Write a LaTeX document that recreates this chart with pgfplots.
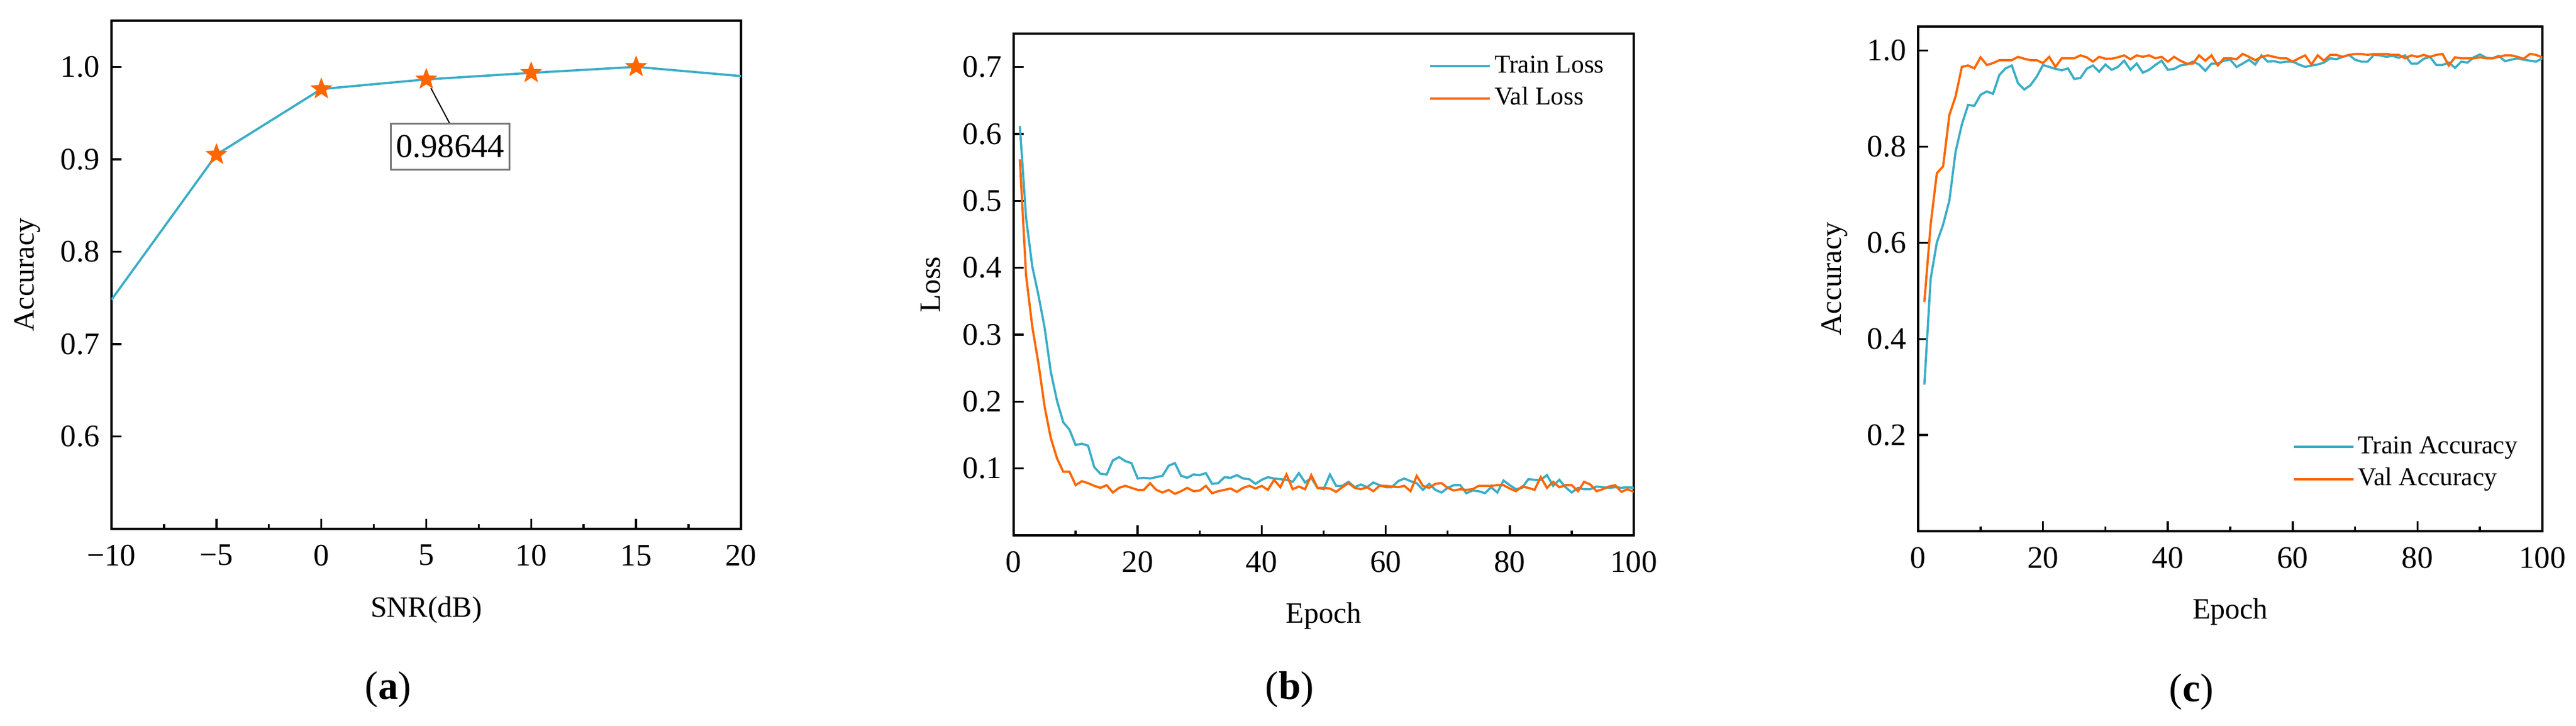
\documentclass[border=0pt]{standalone}
\usepackage{fontspec}
\setmainfont{Liberation Serif}
\usepackage{pgfplots}
\usepackage{pgfplotstable}
\pgfplotsset{compat=1.18}
\definecolor{cy}{RGB}{58,173,199}
\definecolor{orz}{RGB}{255,102,0}
\definecolor{boxgray}{RGB}{120,120,120}

\pgfdeclareplotmark{fstar}{%
  \pgfpathmoveto{\pgfpointpolar{90}{\pgfplotmarksize}}%
  \pgfpathlineto{\pgfpointpolar{126}{0.42\pgfplotmarksize}}%
  \pgfpathlineto{\pgfpointpolar{162}{\pgfplotmarksize}}%
  \pgfpathlineto{\pgfpointpolar{198}{0.42\pgfplotmarksize}}%
  \pgfpathlineto{\pgfpointpolar{234}{\pgfplotmarksize}}%
  \pgfpathlineto{\pgfpointpolar{270}{0.42\pgfplotmarksize}}%
  \pgfpathlineto{\pgfpointpolar{306}{\pgfplotmarksize}}%
  \pgfpathlineto{\pgfpointpolar{342}{0.42\pgfplotmarksize}}%
  \pgfpathlineto{\pgfpointpolar{18}{\pgfplotmarksize}}%
  \pgfpathlineto{\pgfpointpolar{54}{0.42\pgfplotmarksize}}%
  \pgfpathclose
  \pgfusepathqfillstroke}

\pgfplotstableread{
e v
1 0.612
2 0.475
3 0.402
4 0.359
5 0.310
6 0.244
7 0.201
8 0.169
9 0.158
10 0.135
11 0.137
12 0.134
13 0.102
14 0.092
15 0.091
16 0.112
17 0.117
18 0.111
19 0.108
20 0.085
21 0.086
22 0.085
23 0.087
24 0.089
25 0.104
26 0.108
27 0.089
28 0.086
29 0.091
30 0.090
31 0.093
32 0.077
33 0.078
34 0.087
35 0.086
36 0.090
37 0.085
38 0.084
39 0.077
40 0.083
41 0.087
42 0.085
43 0.084
44 0.083
45 0.080
46 0.093
47 0.079
48 0.086
49 0.071
50 0.069
51 0.091
52 0.074
53 0.074
54 0.080
55 0.072
56 0.076
57 0.072
58 0.079
59 0.075
60 0.072
61 0.072
62 0.081
63 0.085
64 0.081
65 0.078
66 0.068
67 0.077
68 0.068
69 0.064
70 0.071
71 0.075
72 0.075
73 0.063
74 0.067
75 0.066
76 0.063
77 0.072
78 0.064
79 0.082
80 0.075
81 0.069
82 0.071
83 0.084
84 0.083
85 0.083
86 0.090
87 0.074
88 0.083
89 0.072
90 0.064
91 0.071
92 0.069
93 0.069
94 0.073
95 0.072
96 0.071
97 0.072
98 0.071
99 0.072
100 0.071
}\trainloss

\pgfplotstableread{
e v
1 0.562
2 0.389
3 0.312
4 0.257
5 0.192
6 0.145
7 0.115
8 0.095
9 0.095
10 0.075
11 0.081
12 0.078
13 0.074
14 0.071
15 0.075
16 0.064
17 0.071
18 0.074
19 0.071
20 0.068
21 0.068
22 0.078
23 0.068
24 0.064
25 0.068
26 0.062
27 0.066
28 0.071
29 0.066
30 0.067
31 0.074
32 0.063
33 0.066
34 0.068
35 0.070
36 0.065
37 0.071
38 0.074
39 0.070
40 0.074
41 0.068
42 0.083
43 0.072
44 0.091
45 0.069
46 0.073
47 0.069
48 0.090
49 0.071
50 0.071
51 0.070
52 0.065
53 0.072
54 0.078
55 0.071
56 0.069
57 0.072
58 0.066
59 0.074
60 0.074
61 0.073
62 0.072
63 0.074
64 0.066
65 0.089
66 0.074
67 0.071
68 0.077
69 0.078
70 0.071
71 0.067
72 0.069
73 0.068
74 0.069
75 0.074
76 0.074
77 0.074
78 0.075
79 0.075
80 0.070
81 0.066
82 0.073
83 0.071
84 0.068
85 0.087
86 0.071
87 0.080
88 0.072
89 0.075
90 0.075
91 0.066
92 0.080
93 0.076
94 0.066
95 0.069
96 0.073
97 0.075
98 0.065
99 0.069
100 0.065
}\valloss

\pgfplotstableread{
e v
1 0.305
2 0.525
3 0.601
4 0.638
5 0.688
6 0.790
7 0.846
8 0.887
9 0.885
10 0.908
11 0.915
12 0.910
13 0.949
14 0.963
15 0.969
16 0.932
17 0.919
18 0.928
19 0.946
20 0.970
21 0.966
22 0.962
23 0.959
24 0.963
25 0.941
26 0.943
27 0.962
28 0.969
29 0.956
30 0.971
31 0.960
32 0.966
33 0.979
34 0.960
35 0.973
36 0.954
37 0.960
38 0.970
39 0.979
40 0.960
41 0.962
42 0.969
43 0.971
44 0.977
45 0.971
46 0.958
47 0.973
48 0.973
49 0.979
50 0.981
51 0.966
52 0.973
53 0.981
54 0.971
55 0.990
56 0.977
57 0.978
58 0.975
59 0.977
60 0.977
61 0.971
62 0.966
63 0.969
64 0.971
65 0.975
66 0.984
67 0.982
68 0.987
69 0.991
70 0.981
71 0.977
72 0.977
73 0.991
74 0.990
75 0.987
76 0.989
77 0.985
78 0.990
79 0.973
80 0.973
81 0.983
82 0.987
83 0.970
84 0.970
85 0.975
86 0.964
87 0.977
88 0.975
89 0.986
90 0.992
91 0.985
92 0.984
93 0.989
94 0.978
95 0.981
96 0.984
97 0.981
98 0.979
99 0.977
100 0.984
}\trainacc

\pgfplotstableread{
e v
1 0.477
2 0.638
3 0.745
4 0.759
5 0.866
6 0.905
7 0.966
8 0.969
9 0.963
10 0.986
11 0.970
12 0.974
13 0.980
14 0.980
15 0.980
16 0.987
17 0.983
18 0.980
19 0.980
20 0.974
21 0.987
22 0.966
23 0.984
24 0.984
25 0.984
26 0.990
27 0.986
28 0.977
29 0.987
30 0.983
31 0.983
32 0.986
33 0.990
34 0.982
35 0.990
36 0.987
37 0.990
38 0.984
39 0.987
40 0.977
41 0.987
42 0.979
43 0.973
44 0.973
45 0.990
46 0.979
47 0.990
48 0.969
49 0.984
50 0.984
51 0.982
52 0.993
53 0.987
54 0.980
55 0.987
56 0.990
57 0.987
58 0.984
59 0.984
60 0.977
61 0.984
62 0.990
63 0.971
64 0.990
65 0.979
66 0.991
67 0.991
68 0.987
69 0.991
70 0.993
71 0.993
72 0.991
73 0.993
74 0.993
75 0.993
76 0.991
77 0.991
78 0.984
79 0.990
80 0.987
81 0.991
82 0.987
83 0.991
84 0.993
85 0.969
86 0.986
87 0.984
88 0.984
89 0.984
90 0.986
91 0.984
92 0.984
93 0.987
94 0.990
95 0.990
96 0.987
97 0.983
98 0.993
99 0.991
100 0.986
}\valacc

\pgfplotsset{
  mystyle/.style={
    scale only axis,
    anchor=south west,
    axis line style={line width=0.7pt},
    every tick/.style={line width=0.7pt, black},
    tick align=inside,
    xtick pos=bottom, ytick pos=left,
    major tick length=3.3pt, minor tick length=1.5pt,
    tick label style={font=\fontsize{10.6}{12}\selectfont},
    xticklabel style={yshift=-1.9pt},
    yticklabel style={xshift=-0.5pt},
    label style={font=\fontsize{11}{13}\selectfont},
    every axis x label/.style={at={(axis description cs:0.5,-0.16)}, anchor=center},
    every axis y label/.style={at={(axis description cs:-0.134,0.5)}, anchor=center, rotate=90},
    legend cell align=left,
    legend image code/.code={\draw[##1, line width=0.8pt] (0pt,0pt) -- (20.2pt,0pt);},
  },
  mylegend/.style={
    legend style={draw=none, fill=none, inner sep=0pt, outer sep=0pt,
      font=\fontsize{8.7}{10}\selectfont, row sep=0.3pt,
      nodes={inner sep=1.2pt, text height=6.3pt, text depth=1.9pt}},
  },
}

\begin{document}
\begin{tikzpicture}
\useasboundingbox (0,0) rectangle (873.2pt,246pt);

% ---------- (a)
\begin{axis}[mystyle,
  at={(37.8pt,66.8pt)}, width=213.4pt, height=172.2pt,
  xmin=-10, xmax=20, ymin=0.5, ymax=1.05,
  xtick={-10,-5,0,5,10,15,20},
  xticklabels={−10,−5,0,5,10,15,20},
  minor x tick num=1,
  ytick={0.6,0.7,0.8,0.9,1.0},
  yticklabels={0.6,0.7,0.8,0.9,1.0},
  xlabel={SNR(dB)}, ylabel={Accuracy},
]
\draw[black, line width=0.4pt] (axis cs:5.22,0.977) -- (axis cs:6.11,0.939);
\addplot[cy, line width=0.75pt, mark=fstar, mark size=3.5pt,
  mark options={solid, fill=orz, draw=orz, line width=0.3pt},
  mark indices={2,3,4,5,6}] coordinates {
  (-10,0.748) (-5,0.905) (0,0.976) (5,0.98644) (10,0.9935) (15,1.0) (20,0.990)};
\node[draw=boxgray, line width=0.5pt, fill=white, inner xsep=1.7pt, inner ysep=4pt,
  font=\fontsize{11.3}{13}\selectfont] at (axis cs:6.14,0.9136) {0.98644};
\end{axis}

% ---------- (b)
\begin{axis}[mystyle, mylegend,
  at={(343.6pt,64.6pt)}, width=210.2pt, height=170pt,
  xmin=0, xmax=100, ymin=0, ymax=0.75,
  xtick={0,20,40,60,80,100},
  xticklabels={0,20,40,60,80,100},
  minor x tick num=1,
  ytick={0.1,0.2,0.3,0.4,0.5,0.6,0.7},
  yticklabels={0.1,0.2,0.3,0.4,0.5,0.6,0.7},
  xlabel={Epoch}, ylabel={Loss},
  legend style={at={(axis description cs:0.670,0.966)}, anchor=north west},
]
\addplot[cy, line width=0.75pt] table[x=e, y=v] {\trainloss};
\addlegendentry{Train Loss}
\addplot[orz, line width=0.75pt] table[x=e, y=v] {\valloss};
\addlegendentry{Val Loss}
\end{axis}

% ---------- (c)
\begin{axis}[mystyle, mylegend,
  at={(650.2pt,66pt)}, width=211.6pt, height=171pt,
  xmin=0, xmax=100, ymin=0, ymax=1.05,
  xtick={0,20,40,60,80,100},
  xticklabels={0,20,40,60,80,100},
  minor x tick num=1,
  ytick={0.2,0.4,0.6,0.8,1.0},
  yticklabels={0.2,0.4,0.6,0.8,1.0},
  xlabel={Epoch}, ylabel={Accuracy},
  legend style={at={(axis description cs:0.600,0.198)}, anchor=north west},
]
\addplot[cy, line width=0.75pt] table[x=e, y=v] {\trainacc};
\addlegendentry{Train Accuracy}
\addplot[orz, line width=0.75pt] table[x=e, y=v] {\valacc};
\addlegendentry{Val Accuracy}
\end{axis}

\node[font=\fontsize{13.5}{15}\selectfont] at (131.6pt,12.4pt) {(\textbf{a})};
\node[font=\fontsize{13.5}{15}\selectfont] at (437.2pt,12.4pt) {(\textbf{b})};
\node[font=\fontsize{13.5}{15}\selectfont] at (742.8pt,11.6pt) {(\textbf{c})};
\end{tikzpicture}
\end{document}
